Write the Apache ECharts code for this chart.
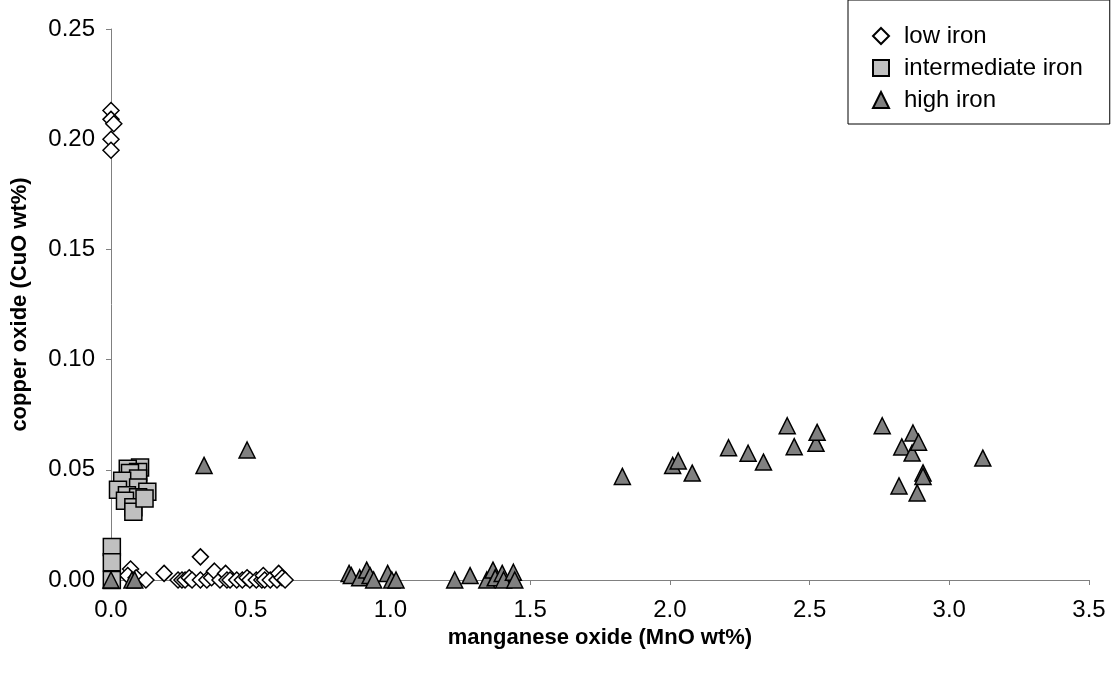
<!DOCTYPE html>
<html>
<head>
<meta charset="utf-8">
<script src="https://cdn.jsdelivr.net/npm/echarts@6/dist/echarts.min.js"></script>
<style>
  html, body { margin: 0; padding: 0; background: #fff; }
  #main { width: 1116px; height: 674px; }
</style>
</head>
<body>
<div id="main"></div>
<script>
// MnO (x) and CuO (y) wt% per group
const lowIronX = [0, 0, 0.01, 0, 0,
  0.07, 0.06, 0.09, 0.125, 0.19, 0.24, 0.254, 0.265, 0.28, 0.29, 0.32, 0.32, 0.343, 0.36,
  0.37, 0.39, 0.41, 0.415, 0.426, 0.45, 0.47, 0.487, 0.497, 0.52, 0.54, 0.545, 0.55,
  0.57, 0.594, 0.60, 0.612, 0.623]
const lowIronY = [0.213, 0.209, 0.207, 0.200, 0.195,
  0.005, 0.002, 0.001, 0, 0.003, 0, 0, 0, 0.001, 0, 0.0105, 0, 0, 0.001,
  0.004, 0, 0.003, 0, 0, 0, 0, 0.001, 0, 0, 0, 0.002, 0,
  0, 0, 0.003, 0.001, 0]

const interIronX = [0.003, 0.003, 0.003,
  0.104, 0.06, 0.097, 0.068, 0.097, 0.04, 0.025, 0.097, 0.13, 0.057, 0.097, 0.05, 0.08, 0.08, 0.12]
const interIronY = [0.015, 0.008, 0.0,
  0.051, 0.0505, 0.049, 0.0485, 0.046, 0.045, 0.041, 0.042, 0.040, 0.0385, 0.0375, 0.036, 0.033, 0.031, 0.037]

const highIronX = [0, 0.075, 0.085, 0.333, 0.487,
  0.852, 0.86, 0.89, 0.915, 0.927, 0.94, 0.99, 1.005, 1.02,
  1.23, 1.285, 1.345, 1.367, 1.375, 1.40, 1.405, 1.44, 1.445,
  1.83, 2.01, 2.03, 2.08, 2.21, 2.28, 2.335, 2.42, 2.445, 2.523, 2.527,
  2.76, 2.83, 2.867, 2.87, 2.89, 2.906, 2.906, 2.82, 2.885, 3.12]
const highIronY = [0, 0, 0, 0.052, 0.059,
  0.003, 0.002, 0.001, 0.0045, 0.002, 0, 0.003, 0, 0,
  0, 0.002, 0, 0.0045, 0.001, 0.003, 0, 0.0035, 0,
  0.047, 0.052, 0.054, 0.0485, 0.060, 0.0575, 0.0535, 0.070, 0.0605, 0.062, 0.067,
  0.070, 0.0604, 0.0576, 0.0667, 0.0625, 0.0486, 0.047, 0.0427, 0.0395, 0.0553]

const xTicks = { min: 0, max: 3.5, step: 0.5 }
const yTicks = { min: 0, max: 0.25, step: 0.05 }

const pairs = (xs, ys) => xs.map((x, i) => [x, ys[i]])

const font = 'Liberation Sans, Arial, sans-serif'
const axisGray = '#808080'

const chart = echarts.init(document.getElementById('main'))
chart.setOption({
  animation: false,
  textStyle: { fontFamily: font },
  grid: { left: 111, right: 27, top: 29, bottom: 94 },
  legend: {
    orient: 'vertical',
    left: 848,
    top: 0,
    padding: [24, 27, 12, 24],
    itemWidth: 16,
    itemHeight: 16,
    itemGap: 8,
    borderColor: '#000',
    borderWidth: 1,
    textStyle: { fontSize: 24, lineHeight: 24, color: '#000', padding: [0, 0, 0, 10], fontFamily: font },
  },
  xAxis: {
    type: 'value',
    min: xTicks.min,
    max: xTicks.max,
    interval: xTicks.step,
    name: 'manganese oxide (MnO wt%)',
    nameLocation: 'middle',
    nameGap: 45,
    nameTextStyle: { fontSize: 22, fontWeight: 'bold', color: '#000', fontFamily: font },
    axisLine: { lineStyle: { color: axisGray, width: 1 } },
    axisTick: { show: true, length: 5, lineStyle: { color: axisGray } },
    axisLabel: { fontSize: 24, color: '#000', margin: 18, formatter: v => v.toFixed(1) },
    splitLine: { show: false },
  },
  yAxis: {
    type: 'value',
    min: yTicks.min,
    max: yTicks.max,
    interval: yTicks.step,
    name: 'copper oxide (CuO wt%)',
    nameLocation: 'middle',
    nameGap: 80,
    nameTextStyle: { fontSize: 22, fontWeight: 'bold', color: '#000', fontFamily: font },
    axisLine: { show: true, lineStyle: { color: axisGray, width: 1 } },
    axisTick: { show: true, length: 5, lineStyle: { color: axisGray } },
    axisLabel: { fontSize: 24, color: '#000', margin: 16, formatter: v => v.toFixed(2) },
    splitLine: { show: false },
  },
  series: [
    {
      name: 'low iron',
      type: 'scatter',
      symbol: 'diamond',
      symbolSize: 16,
      itemStyle: { color: '#fff', borderColor: '#000', borderWidth: 1.5, opacity: 1 },
      data: pairs(lowIronX, lowIronY),
    },
    {
      name: 'intermediate iron',
      type: 'scatter',
      symbol: 'rect',
      symbolSize: 17,
      itemStyle: { color: '#c0c0c0', borderColor: '#000', borderWidth: 1.5, opacity: 1 },
      data: pairs(interIronX, interIronY),
    },
    {
      name: 'high iron',
      type: 'scatter',
      symbol: 'triangle',
      symbolSize: 16,
      itemStyle: { color: '#808080', borderColor: '#000', borderWidth: 1.5, opacity: 1 },
      data: pairs(highIronX, highIronY),
    },
  ],
})
</script>
</body>
</html>
